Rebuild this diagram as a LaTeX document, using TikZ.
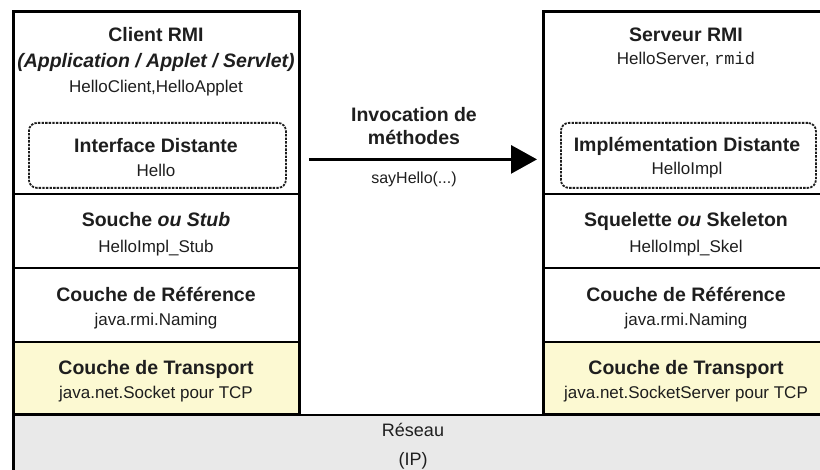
\documentclass[tikz,border=0pt]{standalone}
\usepackage{fontspec}
\setmainfont{Liberation Sans}
\setmonofont{Liberation Mono}
\usetikzlibrary{arrows.meta}
\definecolor{transport}{HTML}{FCF9D2}
\definecolor{network}{HTML}{E9E9E9}
\definecolor{ink}{HTML}{1E1E1E}
\begin{document}
\begin{tikzpicture}[x=1pt,y=-1pt,
  layer/.style={draw=black, line width=1.8pt, anchor=north west, inner sep=0pt, outer sep=0pt, minimum width=286pt},
  remote/.style={draw=ink, line width=1.8pt, dash pattern=on 2.4pt off 1.2pt, rounded corners=8pt, anchor=north west, inner sep=0pt, minimum width=257pt, minimum height=65pt},
  head/.style={anchor=base, text=ink, font=\fontsize{19.5}{22}\selectfont\bfseries},
  sub/.style={anchor=base, text=ink, font=\fontsize{17}{20}\selectfont},
  frame/.style={line width=3pt},
]
\useasboundingbox (0,0) rectangle (820,470);
\clip (0,0) rectangle (820,470);

% network layer spanning both sides
\node[layer, minimum width=840pt, minimum height=70pt, fill=network] (net) at (13,415) {};

% client stack
\node[layer, minimum height=182pt] (client) at (13,12) {};
\node[layer, minimum height=74pt] (stub) at (13,194) {};
\node[layer, minimum height=74pt] (refL) at (13,268) {};
\node[layer, minimum height=73pt, fill=transport] (transL) at (13,342) {};
\draw[frame] (client.north west) rectangle (transL.south east);

% server stack
\node[layer, minimum height=182pt] (server) at (543,12) {};
\node[layer, minimum height=74pt] (skel) at (543,194) {};
\node[layer, minimum height=74pt] (refR) at (543,268) {};
\node[layer, minimum height=73pt, fill=transport] (transR) at (543,342) {};
\draw[frame] (server.north west) rectangle (transR.south east);
\draw[frame] (net.north west) -- (net.south west);

% remote interface / implementation
\node[remote] (iface) at (28,122) {};
\node[remote, minimum width=255pt] (impl) at (560,122) {};

% client texts
\node[head] (tClient) at (156,42) {Client RMI};
\node[head, font=\fontsize{19.5}{22}\selectfont\bfseries\itshape] (tKinds) at (156,68) {(Application / Applet / Servlet)};
\node[sub] (tClientCls) at (156,93) {HelloClient,HelloApplet};
\node[head] (tIface) at (156,153) {Interface Distante};
\node[sub] (tIfaceCls) at (156,177) {Hello};
\node[head] (tStub) at (156,227) {Souche \textit{ou Stub}};
\node[sub] (tStubCls) at (156,253) {HelloImpl\_Stub};
\node[head] (tRefL) at (156,302) {Couche de Référence};
\node[sub] (tRefLCls) at (156,326) {java.rmi.Naming};
\node[head] (tTransL) at (156,375) {Couche de Transport};
\node[sub] (tTransLCls) at (156,399) {java.net.Socket pour TCP};

% server texts
\node[head] (tServer) at (686,42) {Serveur RMI};
\node[sub] (tServerCls) at (686,65) {HelloServer, \texttt{rmid}};
\node[head] (tImpl) at (687,152) {Implémentation Distante};
\node[sub] (tImplCls) at (687,175) {HelloImpl};
\node[head] (tSkel) at (686,227) {Squelette \textit{ou} Skeleton};
\node[sub] (tSkelCls) at (686,253) {HelloImpl\_Skel};
\node[head] (tRefR) at (686,302) {Couche de Référence};
\node[sub] (tRefRCls) at (686,326) {java.rmi.Naming};
\node[head] (tTransR) at (686,375) {Couche de Transport};
\node[sub] (tTransRCls) at (686,399) {java.net.SocketServer pour TCP};

% network texts
\node[sub, font=\fontsize{18}{20}\selectfont] (tNet) at (413,437) {Réseau};
\node[sub, font=\fontsize{18}{20}\selectfont] (tIP) at (413,465) {(IP)};

% method invocation
\draw[line width=3pt, -{Triangle[length=26pt,width=28pt]}, shorten <=22pt, shorten >=23pt]
  ([yshift=-4pt]iface.east) -- ([yshift=-4pt]impl.west);
\node[head] (tInvoc) at (414,122) {Invocation de};
\node[head] (tMeth) at (414,145) {méthodes};
\node[sub, font=\fontsize{16}{20}\selectfont] (tCall) at (414,184) {sayHello(...)};
\end{tikzpicture}
\end{document}
